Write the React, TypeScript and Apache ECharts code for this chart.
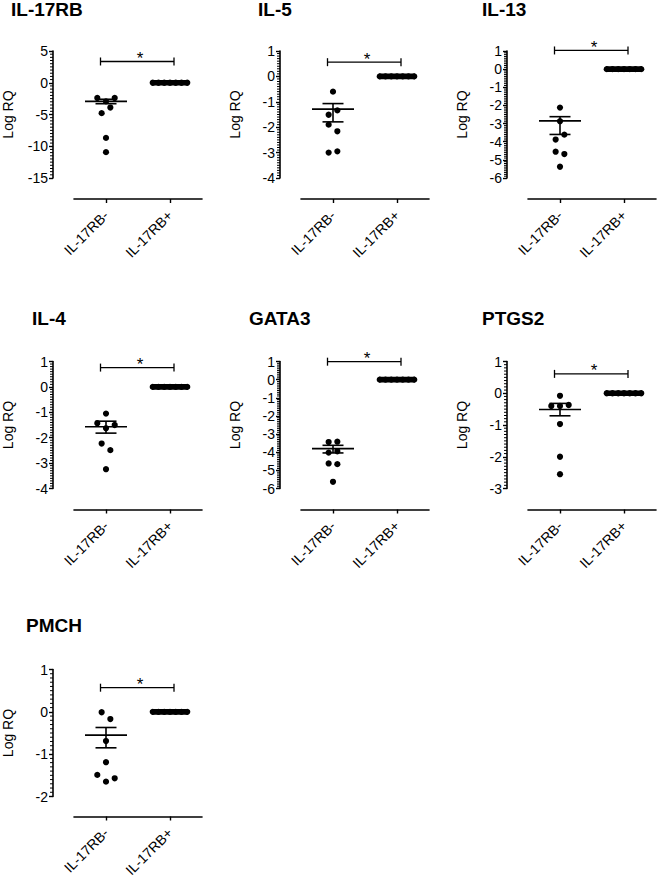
import React, { useEffect, useRef } from 'react';
import * as echarts from 'echarts';

// ---------- data ----------
const genes = ['IL-17RB', 'IL-5', 'IL-13', 'IL-4', 'GATA3', 'PTGS2', 'PMCH'];
const groups = ['IL-17RB-', 'IL-17RB+'];

const il17rbNeg = [-2.4, -2.94, -2.4, -4.79, -3.9, -8.69, -10.93];
const il5Neg = [-0.6, -1.51, -1.34, -1.9, -2.16, -3.0, -2.95];
const il13Neg = [-2.12, -2.87, -3.88, -3.61, -4.55, -4.68, -5.38];
const il4Neg = [-1.05, -1.43, -1.63, -1.5, -2.23, -2.49, -3.24];
const gata3Neg = [-3.44, -3.42, -4.02, -3.95, -4.62, -4.66, -5.63];
const ptgs2Neg = [-0.08, -0.4, -0.4, -0.37, -0.97, -2.0, -2.55];
const pmchNeg = [-0.01, -0.17, -0.69, -1.19, -1.49, -1.65, -1.57];
const posValues = [0, 0, 0, 0, 0, 0, 0];

const negMean = [-2.94, -1.29, -2.85, -1.57, -3.8, -0.51, -0.55];
const negSemHigh = [-2.6, -1.07, -2.62, -1.35, -3.62, -0.32, -0.37];
const negSemLow = [-3.3, -1.79, -3.6, -1.82, -4.04, -0.71, -0.85];
const posMean = [0, 0, 0, 0, 0, 0, 0];

const bracketY = [3.35, 0.56, 1.03, 0.76, 0.99, 0.61, 0.57];
const yMax = [5, 1, 1, 1, 1, 1, 1];
const yMin = [-15, -4, -6, -4, -6, -3, -2];
const yStep = [5, 1, 1, 1, 1, 1, 1];

const negByGene = [il17rbNeg, il5Neg, il13Neg, il4Neg, gata3Neg, ptgs2Neg, pmchNeg];

// ---------- layout ----------
const FONT = '"Liberation Sans", Arial, Helvetica, sans-serif';
const colLeft = [74, 301, 528];
const rowTop = [51, 361.5, 669.5];
const plotW = 128;
const plotH = 127;
const Y_OFFSET = 21;
const titleLeft = [11, 258, 482, 32, 249, 482, 26];
const titleTop = [0, 309, 616];
const BIN_PX = 8.5;
const SPREAD = 8.7;
const MAX_SPAN = 34.5;
const MINOR_SPLIT = 10;

function dotRenderer(neg: number[], pos: number[]) {
  return (params: any, api: any) => {
    const i = params.dataIndex;
    const cat = i < neg.length ? 0 : 1;
    const vals = cat === 0 ? neg : pos;
    const k = cat === 0 ? i : i - neg.length;
    const pts = vals.map((v) => api.coord([cat, v]));
    const order = vals.map((_, j) => j).sort((a, b) => pts[a][1] - pts[b][1] || a - b);
    const bins: number[][] = [];
    let start = -Infinity;
    for (const j of order) {
      if (bins.length && pts[j][1] - start < BIN_PX) bins[bins.length - 1].push(j);
      else {
        bins.push([j]);
        start = pts[j][1];
      }
    }
    const bin = (bins.find((b) => b.includes(k)) as number[]).slice().sort((a, b) => a - b);
    const n = bin.length;
    const sp = n > 1 ? Math.min(SPREAD, MAX_SPAN / (n - 1)) : 0;
    const off = (bin.indexOf(k) - (n - 1) / 2) * sp;
    return {
      type: 'circle',
      shape: { cx: pts[k][0] + off, cy: pts[k][1], r: 3.1 },
      style: { fill: '#000' },
    };
  };
}

function meanRenderer(params: any, api: any) {
  const cat = api.value(0);
  const pm = api.coord([cat, api.value(1)]);
  const pl = api.coord([cat, api.value(2)]);
  const ph = api.coord([cat, api.value(3)]);
  const x = pm[0];
  const ls = { stroke: '#000', lineWidth: 1.6 };
  const same = Math.abs(pl[1] - ph[1]) < 0.5;
  const children: any[] = [
    {
      type: 'line',
      shape: { x1: x - (same ? 18 : 21), y1: pm[1], x2: x + (same ? 18 : 21), y2: pm[1] },
      style: same ? { stroke: '#000', lineWidth: 5.6 } : ls,
    },
  ];
  if (!same) {
    children.push(
      { type: 'line', shape: { x1: x, y1: ph[1], x2: x, y2: pl[1] }, style: ls },
      { type: 'line', shape: { x1: x - 10.5, y1: ph[1], x2: x + 10.5, y2: ph[1] }, style: ls },
      { type: 'line', shape: { x1: x - 10.5, y1: pl[1], x2: x + 10.5, y2: pl[1] }, style: ls }
    );
  }
  return { type: 'group', children };
}

function bracketRenderer(params: any, api: any) {
  const by = api.value(1);
  const a = api.coord([0, by]);
  const b = api.coord([1, by]);
  const x1 = a[0] - 5.5;
  const x2 = b[0] + 4;
  const y = a[1];
  const ls = { stroke: '#000', lineWidth: 1.3 };
  return {
    type: 'group',
    children: [
      { type: 'line', shape: { x1, y1: y, x2, y2: y }, style: ls },
      { type: 'line', shape: { x1, y1: y - 4, x2: x1, y2: y + 4 }, style: ls },
      { type: 'line', shape: { x1: x2, y1: y - 4, x2, y2: y + 4 }, style: ls },
      {
        type: 'text',
        style: {
          text: '*',
          x: (a[0] + b[0]) / 2 + 2,
          y: y - 3,
          textAlign: 'center',
          textVerticalAlign: 'middle',
          font: `17px ${FONT}`,
          fill: '#000',
        },
      },
    ],
  };
}

function minorValues(i: number) {
  const out: number[] = [];
  const step = yStep[i] / MINOR_SPLIT;
  const n = Math.round((yMax[i] - yMin[i]) / step);
  for (let k = 1; k < n; k++) {
    if (k % MINOR_SPLIT !== 0) out.push(+(yMin[i] + k * step).toFixed(4));
  }
  return out;
}

function buildOption() {
  const grid: any[] = [];
  const xAxis: any[] = [];
  const yAxis: any[] = [];
  const series: any[] = [];
  const title: any[] = [];
  genes.forEach((g, i) => {
    const col = i % 3;
    const row = Math.floor(i / 3);
    grid.push({ left: colLeft[col], top: rowTop[row], width: plotW, height: plotH, containLabel: false });
    title.push({
      text: g,
      left: titleLeft[i],
      top: titleTop[row],
      padding: 0,
      textStyle: { fontFamily: FONT, fontWeight: 'bold', fontSize: 19, color: '#000' },
    });
    xAxis.push({
      type: 'category',
      gridIndex: i,
      data: groups,
      position: 'bottom',
      offset: row === 2 ? 20 : 21,
      axisLine: { show: true, onZero: false, lineStyle: { color: '#000', width: 1.6 } },
      axisTick: { show: true, alignWithLabel: true, length: 4, lineStyle: { color: '#000', width: 1.4 } },
      axisLabel: { rotate: 45, interval: 0, margin: 14, fontFamily: FONT, fontSize: 14, color: '#000' },
      splitLine: { show: false },
    });
    yAxis.push({
      type: 'value',
      gridIndex: i,
      min: yMin[i],
      max: yMax[i],
      interval: yStep[i],
      offset: Y_OFFSET,
      name: 'Log RQ',
      nameLocation: 'middle',
      nameGap: 38,
      nameTextStyle: { fontFamily: FONT, fontSize: 14, color: '#000' },
      axisLine: { show: true, onZero: false, lineStyle: { color: '#000', width: 1.6 } },
      axisTick: { show: true, length: 4, lineStyle: { color: '#000', width: 1.4 } },
      axisLabel: { margin: 5, fontFamily: FONT, fontSize: 14, color: '#000' },
      splitLine: { show: false },
    });
    const neg = negByGene[i];
    series.push({
      type: 'custom',
      xAxisIndex: i,
      yAxisIndex: i,
      clip: false,
      encode: { x: 0, y: 1 },
      data: neg.map((v) => [0, v]).concat(posValues.map((v) => [1, v])),
      renderItem: dotRenderer(neg, posValues),
      z: 3,
    });
    series.push({
      type: 'custom',
      xAxisIndex: i,
      yAxisIndex: i,
      clip: false,
      encode: { x: 0, y: 1 },
      data: [
        [0, negMean[i], negSemLow[i], negSemHigh[i]],
        [1, posMean[i], posMean[i], posMean[i]],
      ],
      renderItem: meanRenderer,
      z: 4,
    });
    series.push({
      type: 'custom',
      xAxisIndex: i,
      yAxisIndex: i,
      clip: false,
      encode: { x: 0, y: 1 },
      data: [[0, bracketY[i]]],
      renderItem: bracketRenderer,
      z: 4,
    });
  });
  return { animation: false, backgroundColor: '#fff', title, grid, xAxis, yAxis, series };
}

// minor ruler ticks: positioned from the axis scale after the first layout
function minorTickGraphics(chart: any) {
  const els: any[] = [];
  genes.forEach((_, i) => {
    minorValues(i).forEach((v) => {
      const p = chart.convertToPixel({ xAxisIndex: i, yAxisIndex: i }, [0, v]);
      if (!p) return;
      const ax = p[0] - plotW / 4 - Y_OFFSET;
      els.push({
        type: 'rect',
        silent: true,
        z: 100,
        shape: { x: ax - 3, y: p[1] - 0.5, width: 3, height: 1 },
        style: { fill: '#000' },
      });
    });
  });
  return els;
}

export default function App() {
  const ref = useRef<HTMLDivElement>(null);
  useEffect(() => {
    if (!ref.current) return;
    const chart = echarts.init(ref.current, undefined, { renderer: 'svg' });
    chart.setOption(buildOption() as any);
    chart.setOption({ graphic: minorTickGraphics(chart) } as any);
    return () => chart.dispose();
  }, []);
  return (
    <div
      ref={ref}
      style={{ position: 'absolute', left: 0, top: 0, width: 658, height: 883, background: '#fff' }}
    />
  );
}
